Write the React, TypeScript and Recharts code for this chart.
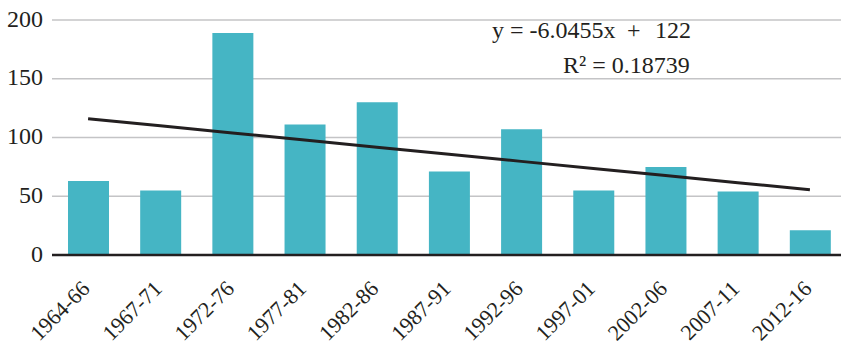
import React from "react";
import { ComposedChart, Bar, Line, XAxis, YAxis, CartesianGrid } from "recharts";

const categories = [
  "1964-66", "1967-71", "1972-76", "1977-81", "1982-86", "1987-91",
  "1992-96", "1997-01", "2002-06", "2007-11", "2012-16",
];
const counts = [63, 55, 189, 111, 130, 71, 107, 55, 75, 54, 21];
// Linear trend as printed: y = -6.0455x + 122
const trendValues = [115.95, 109.91, 103.86, 97.82, 91.77, 85.73, 79.68, 73.64, 67.59, 61.55, 55.5];
const yTicks = [0, 50, 100, 150, 200];
const equationLine1 = "y = -6.0455x";
const equationPlus = "+";
const equationConst = "122";
const equationLine2 = "R² = 0.18739";

const data = categories.map((c, i) => ({ name: c, value: counts[i], trend: trendValues[i] }));

const FONT = "'Liberation Serif', Tinos, 'Times New Roman', serif";
const TEXT = "#231f20";

const XTick = (props: any) => {
  const { x, y, payload } = props;
  const ax = x + 3;
  const ay = y + 35;
  return (
    <text
      x={ax}
      y={ay}
      textAnchor="end"
      transform={`rotate(-45, ${ax}, ${ay})`}
      fontSize={22}
      fill={TEXT}
      className="serif-text"
      style={{ fontFamily: FONT }}
    >
      {payload.value}
    </text>
  );
};

export default function App() {
  return (
    <div>
      <style>{`svg text, .serif-text, .recharts-text { font-family: 'Liberation Serif', Tinos, 'Times New Roman', serif !important; }`}</style>
      <div style={{ position: "absolute", left: 0, top: 0, width: 841, height: 345, overflow: "hidden" }}>
        <ComposedChart
          width={850}
          height={345}
          data={data}
          margin={{ top: 20, right: 4, left: 0, bottom: 0 }}
        >
          <CartesianGrid vertical={false} stroke="#c4c4c6" strokeWidth={1.5} />
          <YAxis
            width={52}
            domain={[0, 200]}
            ticks={yTicks}
            axisLine={false}
            tickLine={false}
            tickSize={0}
            tickMargin={9}
            tick={{ fontFamily: FONT, fontSize: 24, fill: TEXT, dy: -2 }}
            interval={0}
          />
          <XAxis
            dataKey="name"
            height={90}
            interval={0}
            tickLine={false}
            tickSize={0}
            tickMargin={0}
            axisLine={{ stroke: TEXT, strokeWidth: 2.5 }}
            tick={<XTick />}
          />
          <Bar dataKey="value" fill="#45b5c4" barSize={41} isAnimationActive={false} />
          <Line
            dataKey="trend"
            type="linear"
            stroke={TEXT}
            strokeWidth={3}
            dot={false}
            activeDot={false}
            isAnimationActive={false}
          />
        </ComposedChart>
      </div>
      <div style={{ position: "absolute", left: 0, top: 0, width: 841, height: 100, overflow: "hidden", pointerEvents: "none" }}>
        <svg width={841} height={100}>
          <text x={492} y={38} fontSize={24} fill={TEXT} style={{ fontFamily: FONT }}>{equationLine1}</text>
          <text x={627} y={38} fontSize={24} fill={TEXT} style={{ fontFamily: FONT }}>{equationPlus}</text>
          <text x={655} y={38} fontSize={24} fill={TEXT} style={{ fontFamily: FONT }}>{equationConst}</text>
          <text x={563} y={73} fontSize={24} fill={TEXT} style={{ fontFamily: FONT }}>{equationLine2}</text>
        </svg>
      </div>
    </div>
  );
}
